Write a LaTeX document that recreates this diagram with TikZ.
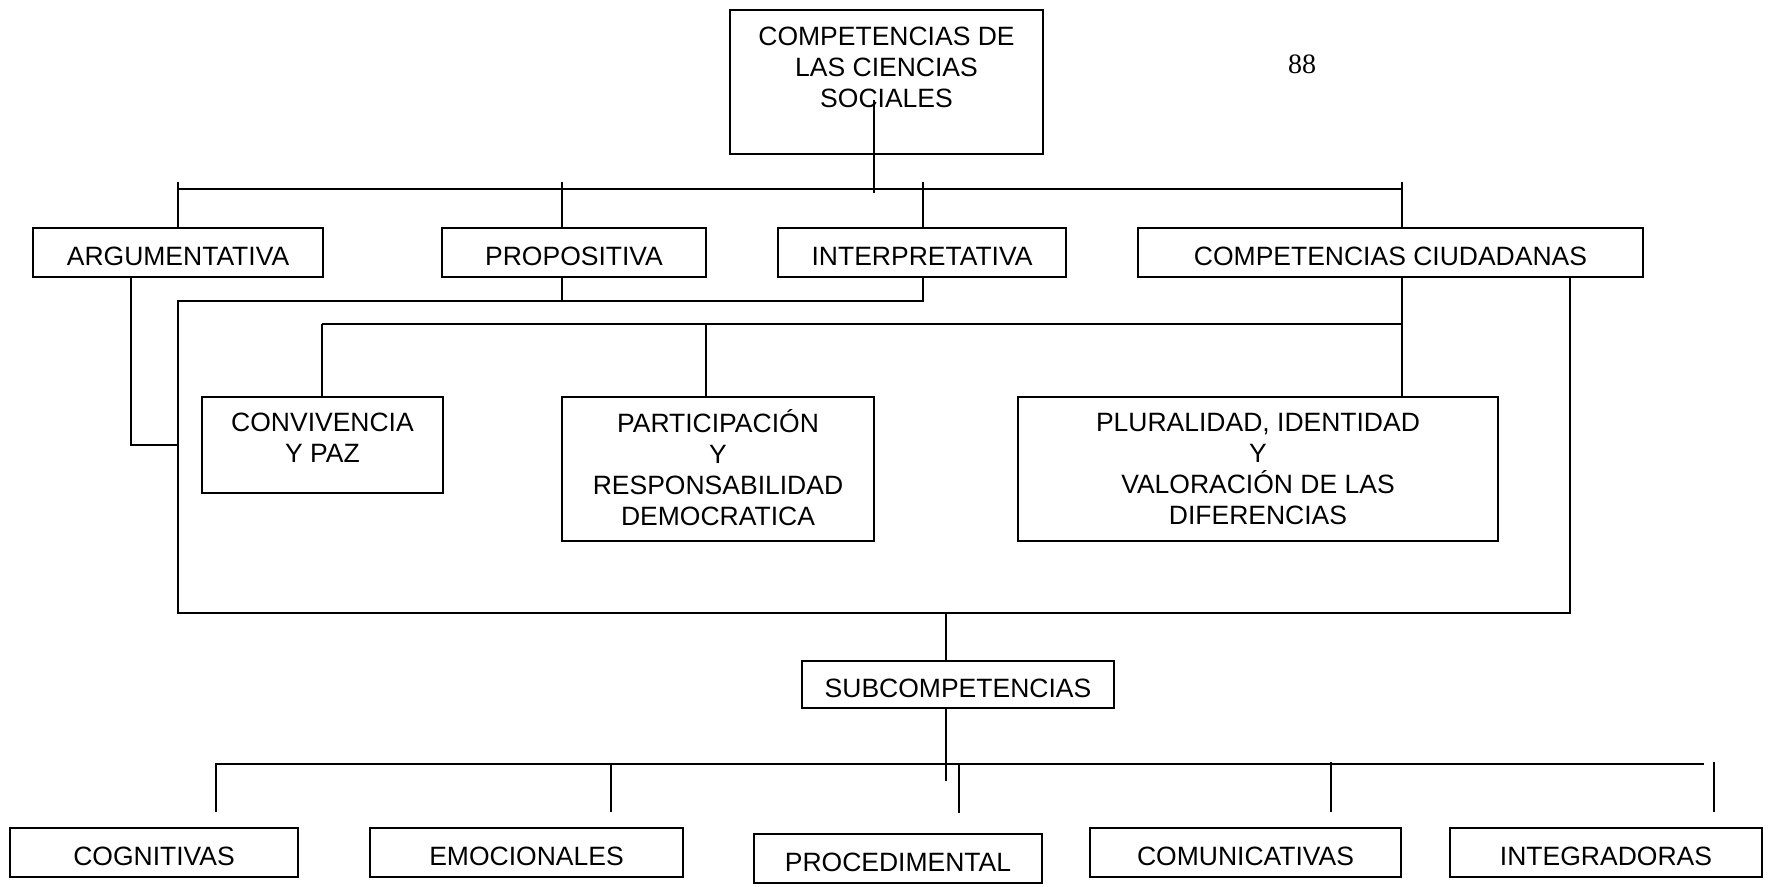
\documentclass[tikz,border=0pt]{standalone}
\usepackage{fontspec}
\setmainfont{Liberation Sans}
\newfontfamily\pagenumfont{Liberation Serif}
\begin{document}
\begin{tikzpicture}[x=0.5pt,y=-0.5pt,
  box/.style={draw, line width=0.9pt, inner sep=0pt, align=center,
    font=\fontsize{13.25}{15.5}\selectfont},
  onebox/.style={box, text height=12.9pt, text depth=0pt},
  conn/.style={line width=0.8pt}]
\useasboundingbox (0,0) rectangle (1769,887);

% boxes
\node[box, minimum width=156.5pt, minimum height=72pt] (top) at (886.5,82)
  {COMPETENCIAS DE\\LAS CIENCIAS\\SOCIALES\rule[-15pt]{0pt}{15pt}};
\node[font=\pagenumfont\fontsize{14}{16}\selectfont, inner sep=0pt] (pg) at (1302,64) {88};

\node[onebox, minimum width=145pt, minimum height=24.5pt] (arg) at (178,252.5) {ARGUMENTATIVA};
\node[onebox, minimum width=132pt, minimum height=24.5pt] (prop) at (574,252.5) {PROPOSITIVA};
\node[onebox, minimum width=144pt, minimum height=24.5pt] (interp) at (922,252.5) {INTERPRETATIVA};
\node[onebox, minimum width=252.5pt, minimum height=24.5pt] (ciud) at (1390.5,252.5) {COMPETENCIAS CIUDADANAS};

\node[box, minimum width=120.5pt, minimum height=48pt] (conv) at (322.5,445)
  {CONVIVENCIA\\Y PAZ\rule[-7pt]{0pt}{7pt}};
\node[box, minimum width=156pt, minimum height=72pt] (part) at (718,469)
  {PARTICIPACIÓN\\Y\\RESPONSABILIDAD\\DEMOCRATICA\rule[-1.5pt]{0pt}{1.5pt}};
\node[box, minimum width=240pt, minimum height=72pt] (plur) at (1258,469)
  {PLURALIDAD, IDENTIDAD\\Y\\VALORACIÓN DE LAS\\DIFERENCIAS};

\node[onebox, minimum width=156pt, minimum height=23.5pt] (sub) at (958,684.5) {SUBCOMPETENCIAS};

\node[onebox, minimum width=144pt, minimum height=24.5pt] (cog) at (154,852.5) {COGNITIVAS};
\node[onebox, minimum width=156.5pt, minimum height=24.5pt] (emo) at (526.5,852.5) {EMOCIONALES};
\node[onebox, minimum width=144pt, minimum height=24.5pt] (proc) at (898,858.5) {PROCEDIMENTAL};
\node[onebox, minimum width=155.5pt, minimum height=24.5pt] (com) at (1245.5,852.5) {COMUNICATIVAS};
\node[onebox, minimum width=156pt, minimum height=24.5pt] (integ) at (1606,852.5) {INTEGRADORAS};

% junction coordinates
\coordinate (t0) at (874,100);
\coordinate (t1) at (874,193);
\coordinate (b1L) at (178,189);
\coordinate (b1R) at (1402,189);
\coordinate (s1) at (178,182);
\coordinate (s2) at (562,182);
\coordinate (s3) at (923,182);
\coordinate (s4) at (1402,182);
\coordinate (a1) at (131,445);
\coordinate (a2) at (178,445);
\coordinate (f1) at (562,301);
\coordinate (f2) at (923,301);
\coordinate (f3) at (178,301);
\coordinate (f4) at (178,613);
\coordinate (f5) at (1570,613);
\coordinate (f6) at (1570,277);
\coordinate (c1) at (1402,324);
\coordinate (c2) at (322,324);
\coordinate (c3) at (706,324);
\coordinate (m1) at (946,613);
\coordinate (m2) at (946,781);
\coordinate (b2L) at (216,764);
\coordinate (b2R) at (1704,764);
\coordinate (u1) at (216,763);
\coordinate (u2) at (611,763);
\coordinate (u3) at (959,765);
\coordinate (u4) at (1331,762);
\coordinate (u5) at (1714,762);

% top connectors
\draw[conn] (t0) -- (t1);
\draw[conn] (b1L) -- (b1R);
\draw[conn] (s1) -- (s1 |- arg.north);
\draw[conn] (s2) -- (s2 |- prop.north);
\draw[conn] (s3) -- (s3 |- interp.north);
\draw[conn] (s4) -- (s4 |- ciud.north);

% middle frame
\draw[conn] (a1 |- arg.south) -- (a1) -- (a2);
\draw[conn] (s2 |- prop.south) -- (f1);
\draw[conn] (s3 |- interp.south) -- (f2) -- (f3) -- (f4) -- (f5) -- (f6 |- ciud.south);
\draw[conn] (c1 |- ciud.south) -- (c1);
\draw[conn] (c2) -- (c1);
\draw[conn] (c2) -- (c2 |- conv.north);
\draw[conn] (c3) -- (c3 |- part.north);
\draw[conn] (c1) -- (c1 |- plur.north);

% bottom
\draw[conn] (m1) -- (m1 |- sub.north);
\draw[conn] (m1 |- sub.south) -- (m2);
\draw[conn] (b2L) -- (b2R);
\draw[conn] (u1) -- (216,812);
\draw[conn] (u2) -- (611,812);
\draw[conn] (u3) -- (959,813);
\draw[conn] (u4) -- (1331,812);
\draw[conn] (u5) -- (1714,812);
\end{tikzpicture}
\end{document}
